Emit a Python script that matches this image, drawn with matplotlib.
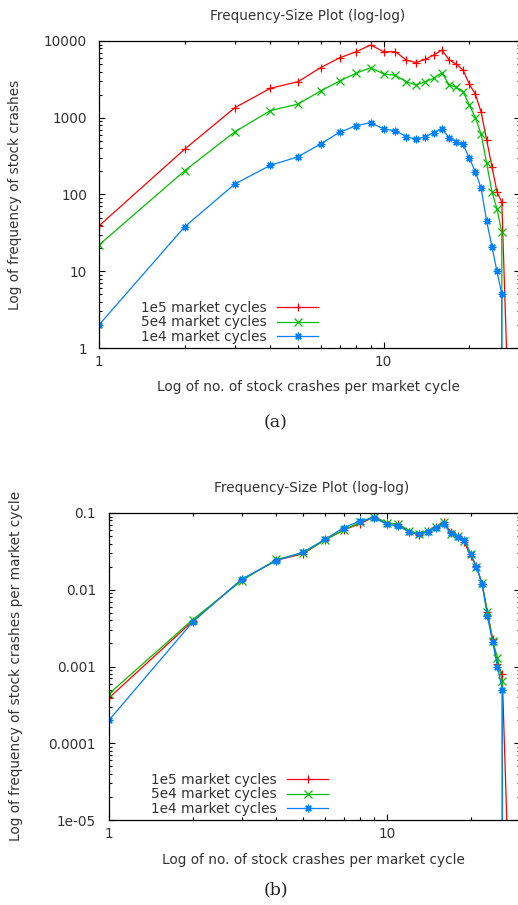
import matplotlib.pyplot as plt
from matplotlib.ticker import LogLocator, NullFormatter

# number of stock crashes per market cycle
crashes = list(range(1, 29))

# counts; 0 = no crashes of that size
freq_1e5 = [39, 390, 1350, 2420, 2950, 4490, 6030, 7250, 8870, 7250,
            7250, 5650, 5230, 5760, 6570, 7640, 5650, 4970, 4190, 2730,
            2020, 1180, 513, 230, 109, 79, 1, 0]
freq_5e4 = [22, 204, 655, 1240, 1505, 2230, 3010, 3800, 4490, 3720,
            3570, 2950, 2670, 2950, 3260, 3870, 2670, 2490, 2190, 1470,
            1000, 608, 255, 109, 65, 32, 0, 0]
freq_1e4 = [2, 38, 137, 240, 310, 455, 646, 788, 863, 713,
            678, 566, 528, 566, 638, 713, 550, 487, 451, 296,
            198, 120, 45, 21, 10, 5, 0, 0]

cycles = [1e5, 5e4, 1e4]
labels = ['1e5 market cycles', '5e4 market cycles', '1e4 market cycles']
colors = ['#ff0000', '#00c000', '#0080ff']
markers = ['+', 'x', (8, 2, 0)]

yticks_a = [1, 10, 100, 1000, 10000]
yticklabels_a = ['1', '10', '100', '1000', '10000']
yticks_b = [1e-5, 1e-4, 1e-3, 1e-2, 1e-1]
yticklabels_b = ['1e-05', '0.0001', '0.001', '0.01', '0.1']
xticks = [1, 10]
xticklabels = ['1', '10']

plt.rcParams['font.family'] = ['DejaVu Sans']
txt = '#333333'
fs = 9.8

fig = plt.figure(figsize=(5.18, 9.05), dpi=100)
W, H = 518, 905
ax1 = fig.add_axes([99 / W, (H - 348) / H, 420.5 / W, 307 / H])
ax2 = fig.add_axes([109 / W, (H - 820) / H, 410.5 / W, 307 / H])

series = [freq_1e5, freq_5e4, freq_1e4]

for ax, norm in [(ax1, False), (ax2, True)]:
    for vals, n, lab, c, m in zip(series, cycles, labels, colors, markers):
        ys = [v / n for v in vals] if norm else vals
        # skip markers on the points that fall on / below the bottom border
        last = sum(1 for v in vals if v > 1)
        ax.plot(crashes, ys, color=c, lw=0.9, marker=m, ms=5.5, mew=0.9,
                markevery=list(range(last)), label=lab)
    ax.set_xscale('log')
    ax.set_yscale('log')
    ax.set_xlim(1, 30)
    ax.set_xticks(xticks)
    ax.set_xticklabels(xticklabels)
    ax.xaxis.set_minor_locator(LogLocator(base=10, subs=range(2, 10)))
    ax.xaxis.set_minor_formatter(NullFormatter())
    ax.yaxis.set_minor_locator(LogLocator(base=10, subs=range(2, 10)))
    ax.yaxis.set_minor_formatter(NullFormatter())
    ax.tick_params(which='both', direction='in', top=True, right=True,
                   width=0.8, colors='black', labelcolor=txt, labelsize=fs)
    ax.tick_params(which='major', length=4)
    ax.tick_params(which='minor', length=2)
    ax.tick_params(axis='x', pad=5)
    for sp in ax.spines.values():
        sp.set_linewidth(0.9)

ax1.set_ylim(1, 10000)
ax1.set_yticks(yticks_a)
ax1.set_yticklabels(yticklabels_a)
ax1.tick_params(axis='y', pad=8.6)

ax2.set_ylim(1e-5, 0.1)
ax2.set_yticks(yticks_b)
ax2.set_yticklabels(yticklabels_b)
ax2.tick_params(axis='y', pad=9.4)

leg_kw = dict(frameon=False, markerfirst=False, handlelength=3.0,
              handletextpad=0.8, labelspacing=0.05, borderpad=0,
              borderaxespad=0, fontsize=fs, labelcolor=txt,
              loc='lower right', bbox_transform=fig.transFigure)
ax1.legend(bbox_to_anchor=(318 / W, (H - 344) / H), **leg_kw)
ax2.legend(bbox_to_anchor=(328 / W, (H - 816) / H), **leg_kw)

# titles, axis labels, captions
fig.text(308 / W, 1 - 16 / H, 'Frequency-Size Plot (log-log)',
         ha='center', va='center', fontsize=fs, color=txt)
fig.text(312 / W, 1 - 488 / H, 'Frequency-Size Plot (log-log)',
         ha='center', va='center', fontsize=fs, color=txt)
fig.text(308 / W, 1 - 387 / H, 'Log of no. of stock crashes per market cycle',
         ha='center', va='center', fontsize=fs, color=txt)
fig.text(313 / W, 1 - 860 / H, 'Log of no. of stock crashes per market cycle',
         ha='center', va='center', fontsize=fs, color=txt)
fig.text(15 / W, 1 - 195 / H, 'Log of frequency of stock crashes',
         ha='center', va='center', rotation=90, fontsize=fs, color=txt)
fig.text(16 / W, 1 - 666 / H, 'Log of frequency of stock crashes per market cycle',
         ha='center', va='center', rotation=90, fontsize=fs, color=txt)
fig.text(276 / W, 1 - 423 / H, '(a)', ha='center', va='center',
         family='DejaVu Serif', fontsize=12.5, color='#222222')
fig.text(276 / W, 1 - 890 / H, '(b)', ha='center', va='center',
         family='DejaVu Serif', fontsize=12.5, color='#222222')

fig.savefig('out.png', dpi=100)
